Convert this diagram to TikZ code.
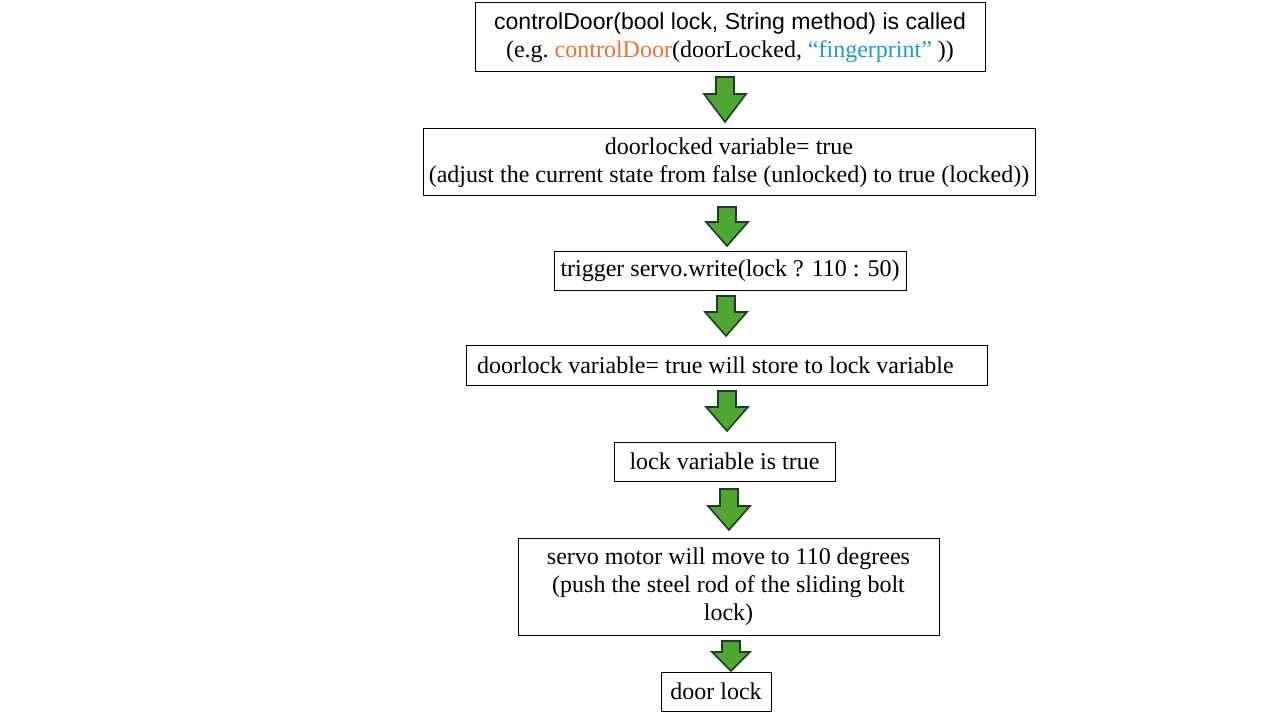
\documentclass[tikz,border=0pt]{standalone}
\usepackage{fontspec}
\setmainfont{Liberation Serif}
\newfontfamily\aptos{Liberation Sans}
\definecolor{fillgreen}{HTML}{4EA72E}
\definecolor{edgegreen}{HTML}{1E3A28}
\definecolor{codeorange}{HTML}{E97132}
\definecolor{codeblue}{HTML}{1C9BCF}
\begin{document}
\begin{tikzpicture}[x=0.75pt,y=-0.75pt,
  stepbox/.style={draw=black,line width=0.75pt,fill=white,inner sep=0pt,align=center,
    font=\fontsize{18}{21}\selectfont},
  blk/.style={fill=fillgreen,draw=edgegreen,line width=1.2pt,line join=miter}]
\useasboundingbox (0,0) rectangle (1280,720);
\fill[white] (0,0) rectangle (1280,720);
% boxes
\node[stepbox,minimum width=510*0.75pt,minimum height=69*0.75pt] (b1) at (730,37.5)
  {{\aptos\fontsize{17.3}{21}\selectfont controlDoor(bool lock, String method) is called}\\
   (e.g.\ \textcolor{codeorange}{controlDoor}(doorLocked, \textcolor{codeblue}{``fingerprint''} ))};
\node[stepbox,minimum width=612*0.75pt,minimum height=67*0.75pt] (b2) at (729,162.5)
  {doorlocked variable= true\\ (adjust the current state from false (unlocked) to true (locked))};
\node[stepbox,minimum width=352*0.75pt,minimum height=39*0.75pt] (b3) at (730,270.5)
  {trigger servo.write(lock ? 110 : 50)};
\node[stepbox,align=flush left,text width=499*0.75pt,inner xsep=11*0.75pt,minimum height=40*0.75pt] (b4) at (726.5,365)
  {doorlock variable= true will store to lock variable};
\node[stepbox,minimum width=221*0.75pt,minimum height=39*0.75pt] (b5) at (724.5,461.5)
  {lock variable is true};
\node[stepbox,minimum width=421*0.75pt,minimum height=97*0.75pt] (b6) at (728.5,586.5)
  {servo motor will move to 110 degrees\\ (push the steel rod of the sliding bolt\\ lock)};
\node[stepbox,minimum width=110*0.75pt,minimum height=39*0.75pt] (b7) at (716,691.5)
  {door lock};
% block arrows
\draw[blk] (716,77) -- (734,77) -- (734,94) -- (746,94) -- (725,122) -- (704,94) -- (716,94) -- cycle;
\draw[blk] (718,207) -- (736,207) -- (736,222) -- (748,222) -- (727,246) -- (706,222) -- (718,222) -- cycle;
\draw[blk] (717,296) -- (735,296) -- (735,312) -- (747,312) -- (726,336) -- (705,312) -- (717,312) -- cycle;
\draw[blk] (718,391) -- (736,391) -- (736,407) -- (748,407) -- (727,431) -- (706,407) -- (718,407) -- cycle;
\draw[blk] (720,489) -- (738,489) -- (738,506) -- (750,506) -- (729,530) -- (708,506) -- (720,506) -- cycle;
\draw[blk] (722,641) -- (740,641) -- (740,652) -- (750,652) -- (731,671) -- (712,652) -- (722,652) -- cycle;
\end{tikzpicture}
\end{document}
